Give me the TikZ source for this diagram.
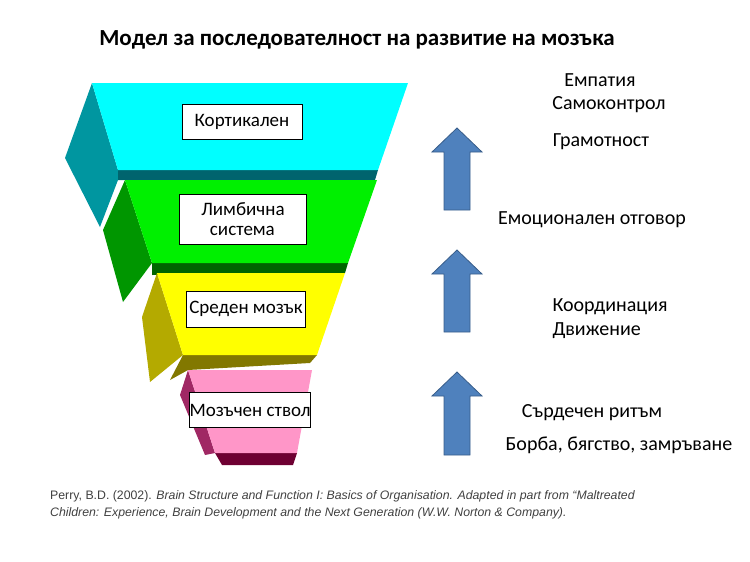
\documentclass[tikz,border=0pt]{standalone}
\usepackage{fontspec}
\setmainfont{Carlito}
\newfontfamily\arialf{Liberation Sans}
\definecolor{cy}{RGB}{0,255,255}
\definecolor{cyd}{RGB}{0,150,160}
\definecolor{cyb}{RGB}{0,100,110}
\definecolor{gr}{RGB}{0,240,0}
\definecolor{grd}{RGB}{0,150,0}
\definecolor{grb}{RGB}{0,100,0}
\definecolor{ye}{RGB}{255,255,0}
\definecolor{yed}{RGB}{180,170,0}
\definecolor{yeb}{RGB}{130,120,0}
\definecolor{pk}{RGB}{255,150,200}
\definecolor{pkd}{RGB}{160,40,100}
\definecolor{pkb}{RGB}{110,0,50}
\definecolor{ab}{RGB}{79,129,189}
\definecolor{abd}{RGB}{56,93,138}
\begin{document}
\begin{tikzpicture}[x=1pt,y=-1pt,
  lbl/.style={draw=black,fill=white,inner sep=0pt,font=\fontsize{19}{20}\selectfont},
  rt/.style={font=\fontsize{20}{24}\selectfont},
  uparrow/.style={draw=abd,fill=ab,line width=0.8pt}]
\useasboundingbox (0,0) rectangle (750,562);
% cyan
\fill[cyd] (92,83) -- (65,158) -- (100,227) -- (118,180) -- (118,170) -- cycle;
\fill[cyb] (118,170) -- (378,170) -- (375,180) -- (118,180) -- cycle;
\fill[cy] (92,83) -- (408,83) -- (378,170) -- (118,170) -- cycle;
% green
\fill[grd] (125,180) -- (103,230) -- (123,302) -- (152,263) -- cycle;
\fill[grb] (152,263) -- (348,263) -- (345,273) -- (152,275) -- cycle;
\fill[gr] (125,180) -- (377,180) -- (348,263) -- (152,263) -- cycle;
% yellow
\fill[yed] (157,273) -- (142,317) -- (150,382) -- (183,355) -- cycle;
\fill[yeb] (183,355) -- (317,355) -- (310,363) -- (188,370) -- (170,380) -- cycle;
\fill[ye] (157,273) -- (345,273) -- (317,355) -- (183,355) -- cycle;
% pink
\fill[pkd] (188,370) -- (180,395) -- (205,455) -- (215,453) -- cycle;
\fill[pkb] (215,453) -- (297,453) -- (293,465) -- (222,465) -- cycle;
\fill[pk] (188,370) -- (312,370) -- (297,453) -- (215,453) -- cycle;
% labels
\node[lbl,minimum width=120,minimum height=35] (k) at (242,122) {Кортикален};
\node[lbl,minimum width=127,minimum height=50,align=left] (l) at (243,219) {Лимбична\\\ \ система};
\node[lbl,minimum width=119,minimum height=36] (s) at (246,309) {Среден мозък};
\node[lbl,minimum width=120,minimum height=35] (m) at (250,410) {Мозъчен ствол};
% arrows
\foreach \n/\t/\b in {a1/128/210, a2/250/332, a3/372/455}{
  \draw[uparrow] (457,\t) -- (482,\t+24) -- (470,\t+24) -- (470,\b) -- (444,\b) -- (444,\t+24) -- (432,\t+24) -- cycle;
  \coordinate (\n) at (457,\t);
}
% right texts
\node[rt] (t1) at (600,80) {Емпатия};
\node[rt] (t2) at (609,105) {Самоконтрол};
\node[rt] (t3) at (601,142) {Грамотност};
\node[rt] (t4) at (592,220) {Емоционален отговор};
\node[rt,align=left,anchor=west] (t5) at (549,319) {Координация\\Движение};
\node[rt] (t6) at (592,413) {Сърдечен ритъм};
\node[rt] (t7) at (619,445) {Борба, бягство, замръване};
\node[font=\bfseries\fontsize{23}{26}\selectfont] (title) at (357,40) {Модел за последователност на развитие на мозъка};
\node[anchor=north west,align=left,text=black!75,font=\arialf\fontsize{12.3}{17}\selectfont,inner sep=0] (cit) at (50,490) {Perry, B.D. (2002). \textit{Brain Structure and Function I: Basics of Organisation. Adapted in part from “Maltreated}\\\textit{Children: Experience, Brain Development and the Next Generation (W.W.\ Norton \& Company).}};
\end{tikzpicture}
\end{document}
